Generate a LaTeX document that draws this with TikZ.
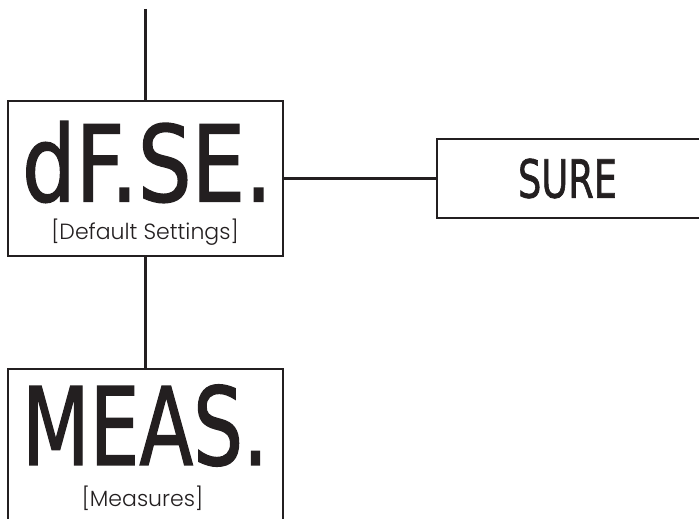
\documentclass[tikz,border=0pt]{standalone}
\usepackage{fontspec}
\usepackage{graphicx}
\usetikzlibrary{positioning}
\setmainfont{Poppins}[UprightFont=* Light]
\newfontfamily\segfont{DejaVu Sans}[FakeBold=1.5]
\definecolor{PanelInk}{HTML}{231F20}

\begin{document}
\begin{tikzpicture}[x=1pt, y=-1pt,
                    panel/.style={draw=PanelInk, line width=2.2pt, fill=white,
                                  minimum width=275pt, inner sep=0pt},
                    link/.style={draw=PanelInk, line width=2.2pt},
                    seg/.style={text=PanelInk, inner sep=0pt, font=\segfont},
                    sub/.style={text=PanelInk, inner sep=0pt,
                                font=\fontsize{22}{22}\selectfont}]
\useasboundingbox (0,0) rectangle (699,519);
\clip (0,0) rectangle (699,519);
\coordinate (top) at (145.5,9);
\node[panel, minimum height=155pt] (dfse) at (145.5,178.5) {};
\node[panel, minimum height=200pt, below=111pt of dfse] (meas) {};
\node[panel, minimum width=300pt, minimum height=79pt, right=152pt of dfse] (sure) {};
\node[seg] (dfsetxt) at (147,162) {\resizebox{250pt}{80pt}{dF.SE.}};
\node[sub] (dfsesub) at (145,232) {[Default Settings]};
\node[seg] (meastxt) at (145,425.5) {\resizebox{246pt}{80pt}{MEAS.}};
\node[sub] (meassub) at (142.5,498) {[Measures]};
\node[seg] (suretxt) at (567.5,178.5) {\resizebox{99pt}{39pt}{SURE}};
\draw[link] (top) -- (dfse.north);
\draw[link] (dfse.south) -- (meas.north);
\draw[link] (dfse.east) -- (sure.west);
\end{tikzpicture}
\end{document}
